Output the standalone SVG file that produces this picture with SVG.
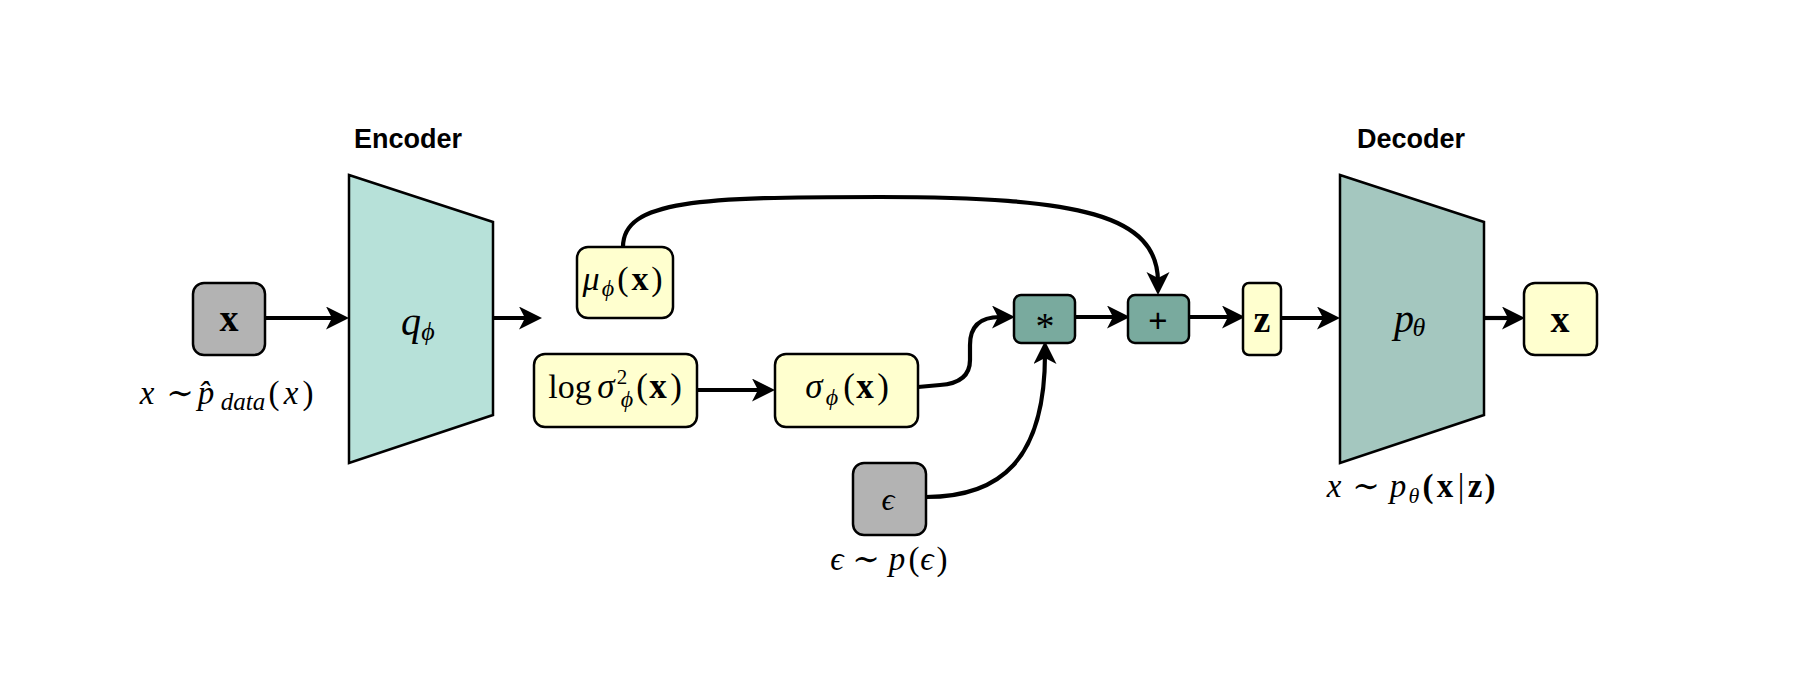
<svg xmlns="http://www.w3.org/2000/svg" width="1818" height="678" viewBox="0 0 1818 678">
<defs>
<marker id="arr" markerUnits="userSpaceOnUse" markerWidth="26" markerHeight="24" viewBox="0 0 26 24" refX="10" refY="11.5" orient="auto">
<path d="M0,0 L23,11.5 L0,23 L6,11.5 Z" fill="#000"/>
</marker>
<style>
.box{stroke:#000;stroke-width:2.5}
.gray{fill:#b3b3b3}
.yel{fill:#ffffcf}
.op{fill:#79aa9e}
.enc{fill:#b7e1d9}
.dec{fill:#a4c7bf}
.edge{fill:none;stroke:#000;stroke-width:4.2;marker-end:url(#arr)}
text{text-anchor:middle;fill:#000}
.m{font-family:"Liberation Serif","DejaVu Serif",serif;font-style:italic}
.b{font-family:"Liberation Serif","DejaVu Serif",serif;font-weight:bold;font-style:normal}
.r{font-style:normal}
.h{font-family:"Liberation Sans",Arial,sans-serif;font-weight:bold;font-size:27px}
.s{font-family:"Liberation Sans",Arial,sans-serif;font-size:33px}
</style>
</defs>
<rect width="1818" height="678" fill="#fff"/>

<g id="titles">
<text class="h" x="408" y="148">Encoder</text>
<text class="h" x="1411" y="148">Decoder</text>
</g>

<g id="connectors">
<path class="edge" d="M265,318 L336,318"/>
<path class="edge" d="M493,318 L529,318"/>
<path class="edge" d="M697,390 L762,390"/>
<path class="edge" d="M623,247 C623,200 700,197 880,197 C1080,197 1158,215 1158,282"/>
<path class="edge" d="M918,387 L940,385 Q970,383 970,360 L970,345 Q970,317 1000,317 L1002,317"/>
<path class="edge" d="M926,497 C1000,497 1045,460 1045,354"/>
<path class="edge" d="M1075,317 L1117,317"/>
<path class="edge" d="M1189,317 L1232,317"/>
<path class="edge" d="M1281,318 L1327,318"/>
<path class="edge" d="M1484,318 L1512,318"/>
</g>

<g id="input-x">
<rect class="box gray" x="193" y="283" width="72" height="72" rx="11"/>
<text class="b" x="229" y="331" font-size="38">x</text>
<text class="m" font-size="33" y="404"><tspan x="147">x</tspan><tspan x="180" class="r">∼</tspan><tspan x="206">p̂</tspan><tspan x="243" y="410" font-size="25">data</tspan><tspan x="274" y="404" class="r">(</tspan><tspan x="291">x</tspan><tspan x="308" class="r">)</tspan></text>
</g>

<g id="encoder">
<polygon class="box enc" points="349,175 493,222 493,415 349,463"/>
<text class="m" font-size="40" y="335"><tspan x="411">q</tspan><tspan x="428" y="340" font-size="26">ϕ</tspan></text>
</g>

<g id="mu">
<rect class="box yel" x="577" y="247" width="96" height="71" rx="11"/>
<text class="m" font-size="34" y="290"><tspan x="591">μ</tspan><tspan x="608" y="296" font-size="24">ϕ</tspan><tspan x="623" y="290" class="r">(</tspan><tspan x="640" class="b">x</tspan><tspan x="657" class="r">)</tspan></text>
</g>

<g id="logvar">
<rect class="box yel" x="534" y="354" width="163" height="73" rx="11"/>
<text class="m" font-size="35" y="398"><tspan x="570" class="r" font-size="34">log</tspan><tspan x="606">σ</tspan><tspan x="622" y="384" class="r" font-size="21">2</tspan></text>
<text class="m" font-size="35" y="398"><tspan x="627" y="407" font-size="24">ϕ</tspan><tspan x="642" y="398" class="r">(</tspan><tspan x="658" class="b">x</tspan><tspan x="676" class="r">)</tspan></text>
</g>

<g id="sigma">
<rect class="box yel" x="775" y="354" width="143" height="73" rx="11"/>
<text class="m" font-size="35" y="398"><tspan x="814">σ</tspan><tspan x="832" y="405" font-size="24">ϕ</tspan><tspan x="849" y="398" class="r">(</tspan><tspan x="865" class="b">x</tspan><tspan x="883" class="r">)</tspan></text>
</g>

<g id="eps">
<rect class="box gray" x="853" y="463" width="73" height="72" rx="11"/>
<text class="m" x="888" y="510" font-size="32">ϵ</text>
<text class="m" font-size="33" y="570"><tspan x="837">ϵ</tspan><tspan x="866" class="r">∼</tspan><tspan x="897">p</tspan><tspan x="914" class="r">(</tspan><tspan x="927">ϵ</tspan><tspan x="942" class="r">)</tspan></text>
</g>

<g id="mul">
<rect class="box op" x="1014" y="295" width="61" height="48" rx="7"/>
<text class="m" x="1045" y="339" font-size="38" style="font-style:normal">*</text>
</g>

<g id="add">
<rect class="box op" x="1128" y="295" width="61" height="48" rx="7"/>
<text class="s" x="1158" y="332">+</text>
</g>

<g id="z">
<rect class="box yel" x="1243" y="283" width="38" height="72" rx="6"/>
<text class="b" x="1262" y="332" font-size="38">z</text>
</g>

<g id="decoder">
<polygon class="box dec" points="1340,175 1484,222 1484,415 1340,463"/>
<text class="m" font-size="40" y="332"><tspan x="1404">p</tspan><tspan x="1419" y="336" font-size="26">θ</tspan></text>
<text class="m" font-size="33" y="497"><tspan x="1334">x</tspan><tspan x="1366" class="r">∼</tspan><tspan x="1398">p</tspan><tspan x="1414" y="503" font-size="22">θ</tspan><tspan x="1428" y="497" class="b">(</tspan><tspan x="1445" class="b">x</tspan><tspan x="1461" class="r">|</tspan><tspan x="1475" class="b">z</tspan><tspan x="1490" class="b">)</tspan></text>
</g>

<g id="output-x">
<rect class="box yel" x="1524" y="283" width="73" height="72" rx="11"/>
<text class="b" x="1560" y="332" font-size="38">x</text>
</g>
</svg>
